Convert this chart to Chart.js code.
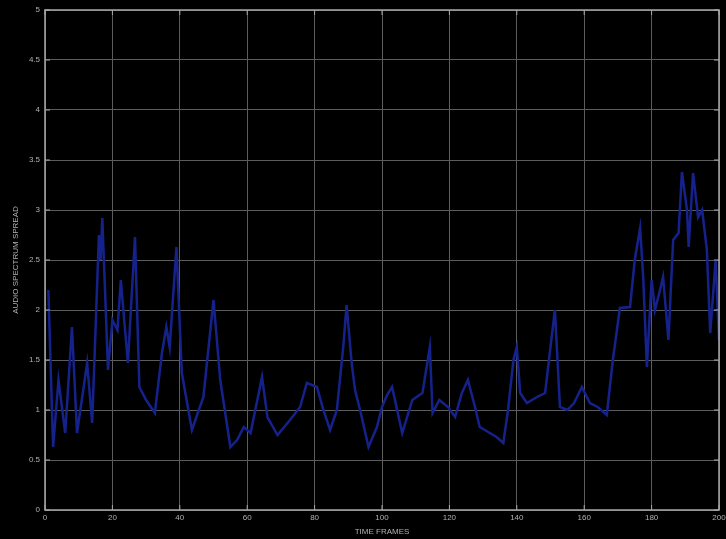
<!DOCTYPE html>
<html>
<head>
<meta charset="utf-8">
<script src="https://cdn.jsdelivr.net/npm/chart.js@4/dist/chart.umd.min.js"></script>
<style>
  html, body { margin: 0; padding: 0; background: #000; }
  #spreadChart { display: block; }
</style>
</head>
<body>
<canvas id="spreadChart" width="726" height="539"></canvas>
<script>
// time frame positions and audio spectrum spread values
const frames = [
  1, 2.4, 4, 6, 8, 9.5, 12.5, 14, 16, 16.5, 17, 18.7, 20, 21.5, 22.5, 23.5, 24.6,
  26.7, 28, 30, 32.6, 34.7, 36, 37, 39, 40.6, 43.6, 47, 50, 52, 55, 57, 59, 61,
  64.4, 66, 69, 72.7, 75.7, 77.7, 80.7, 82.6, 84.6, 86.6, 88.5, 89.5, 91, 92,
  93.5, 96, 98.5, 100, 101.5, 103, 106, 109, 112, 114.2, 115, 117, 119.6, 121.7,
  123.7, 125.5, 127.6, 129, 132, 134, 136, 137.4, 139, 140, 141, 143, 146, 148.4,
  150, 151.3, 152.8, 155, 157, 159.3, 161.7, 164, 166.7, 168.5, 170.6, 173.6, 175,
  176.6, 177.5, 178.6, 180, 181, 182.5, 183.4, 185, 186.4, 188, 189, 190.5, 191,
  192.3, 193.8, 195, 196.4, 197.4, 199, 200
];
const spread = [
  2.2, 0.63, 1.3, 0.77, 1.83, 0.77, 1.47, 0.87, 2.75, 2.5, 2.92, 1.4, 1.9, 1.8, 2.3, 1.9, 1.47,
  2.73, 1.23, 1.1, 0.97, 1.57, 1.83, 1.63, 2.63, 1.37, 0.8, 1.13, 2.1, 1.3, 0.63, 0.7, 0.83, 0.77,
  1.33, 0.93, 0.75, 0.9, 1.03, 1.27, 1.23, 1.0, 0.8, 1.0, 1.63, 2.05, 1.47, 1.2,
  1.0, 0.63, 0.83, 1.03, 1.15, 1.23, 0.77, 1.1, 1.17, 1.63, 0.97, 1.1, 1.03, 0.93,
  1.17, 1.3, 1.03, 0.83, 0.77, 0.73, 0.67, 1.0, 1.5, 1.63, 1.17, 1.07, 1.13, 1.17,
  1.63, 2.0, 1.03, 1.0, 1.07, 1.23, 1.07, 1.03, 0.95, 1.5, 2.02, 2.03, 2.5,
  2.82, 2.33, 1.43, 2.3, 2.0, 2.2, 2.33, 1.7, 2.7, 2.77, 3.38, 3.0, 2.63,
  3.37, 2.93, 3.0, 2.6, 1.77, 2.5, 1.7
];

const labelColor = "#b0b0b0";
const labelFont = { family: "'Liberation Sans', Arial, sans-serif", size: 8 };

// MATLAB-style box around the axes with inward tick marks
const axesBox = {
  id: "axesBox",
  afterDraw(chart) {
    const { ctx, chartArea: a, scales } = chart;
    ctx.save();
    ctx.strokeStyle = "#a8a8a8";
    ctx.lineWidth = 1.5;
    ctx.strokeRect(a.left, a.top, a.right - a.left, a.bottom - a.top);
    ctx.lineWidth = 1;
    ctx.beginPath();
    scales.x.ticks.forEach((t) => {
      const px = scales.x.getPixelForValue(t.value);
      ctx.moveTo(px, a.bottom); ctx.lineTo(px, a.bottom - 5);
      ctx.moveTo(px, a.top); ctx.lineTo(px, a.top + 5);
    });
    scales.y.ticks.forEach((t) => {
      const py = scales.y.getPixelForValue(t.value);
      ctx.moveTo(a.left, py); ctx.lineTo(a.left + 5, py);
      ctx.moveTo(a.right, py); ctx.lineTo(a.right - 5, py);
    });
    ctx.stroke();
    ctx.restore();
  },
};

new Chart(document.getElementById("spreadChart"), {
  type: "line",
  data: {
    datasets: [
      {
        data: frames.map((f, i) => ({ x: f, y: spread[i] })),
        borderColor: "rgb(22, 34, 140)",
        borderWidth: 2.5,
        pointRadius: 0,
        tension: 0,
      },
    ],
  },
  options: {
    responsive: false,
    animation: false,
    layout: { padding: { top: 10, right: 7, left: 0, bottom: 0 } },
    plugins: { legend: { display: false }, tooltip: { enabled: false } },
    scales: {
      x: {
        type: "linear",
        min: 0,
        max: 200,
        afterFit: (s) => {
          s.height = 29;
          s.paddingLeft = 0;
          s.paddingRight = 0;
        },
        ticks: { stepSize: 20, color: labelColor, font: labelFont, padding: 3, maxRotation: 0 },
        grid: { color: "#5c5c5c", drawTicks: false },
        border: { display: false },
        title: {
          display: true,
          text: "TIME FRAMES",
          color: labelColor,
          font: labelFont,
          padding: { top: 0, bottom: 2 },
        },
      },
      y: {
        min: 0,
        max: 5,
        afterFit: (s) => {
          s.width = 45;
          s.paddingTop = 0;
          s.paddingBottom = 0;
        },
        ticks: {
          stepSize: 0.5,
          color: labelColor,
          font: labelFont,
          padding: 5,
          callback: (v) => String(Math.round(v * 10) / 10),
        },
        grid: { color: "#5c5c5c", drawTicks: false },
        border: { display: false },
        title: {
          display: true,
          text: "AUDIO SPECTRUM SPREAD",
          color: labelColor,
          font: labelFont,
          padding: { top: 11, bottom: 0 },
        },
      },
    },
  },
  plugins: [axesBox],
});
</script>
</body>
</html>
